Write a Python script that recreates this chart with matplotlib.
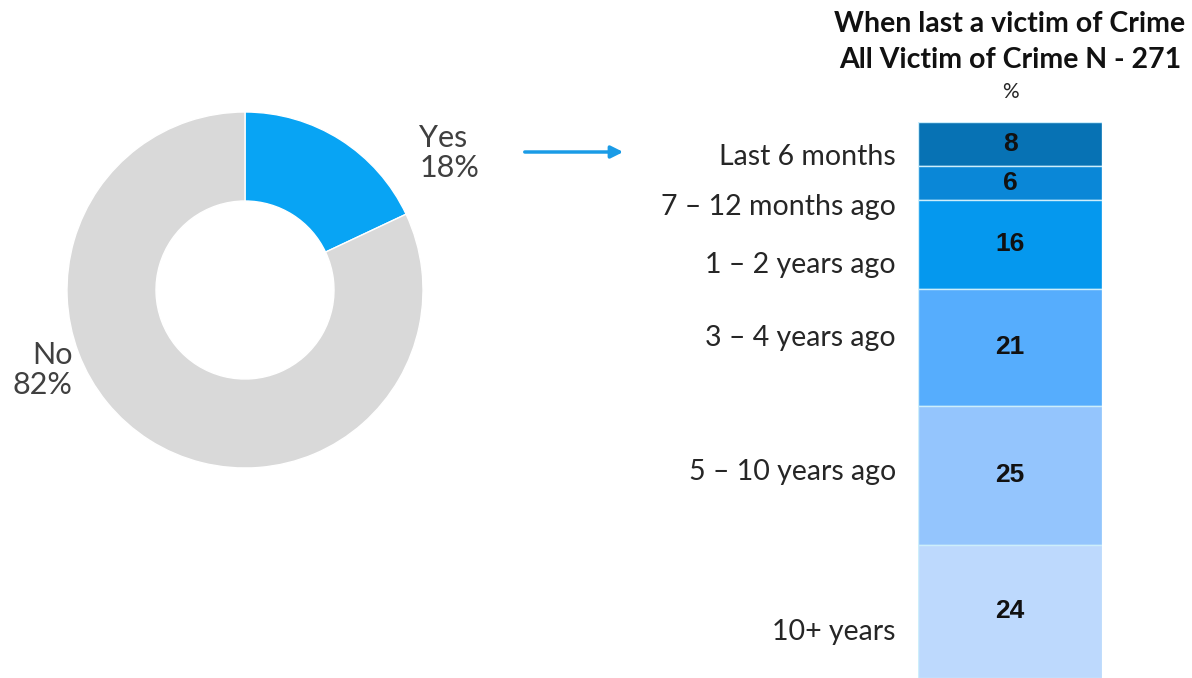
import numpy as np
import matplotlib.pyplot as plt
from matplotlib.patches import FancyArrowPatch

# victim of crime share (donut)
pie_labels = ["Yes", "No"]
pie_values = [18, 82]
pie_colors = ["#08a4f4", "#d9d9d9"]

# when last a victim, top to bottom of the stacked bar
periods = ["Last 6 months", "7 \u2013 12 months ago", "1 \u2013 2 years ago",
           "3 \u2013 4 years ago", "5 \u2013 10 years ago", "10+ years"]
shares = [8, 6, 16, 21, 25, 24]
bar_colors = ["#0772b4", "#0a87d7", "#0598ee", "#56adfd", "#94c5fd", "#bdd9fd"]
# nudges for the side labels so they don't crowd the thin segments
label_nudge = [2.3, 4.3, 3.7, -1.7, -0.6, 3.7]

plt.rcParams["font.family"] = ["Lato", "DejaVu Sans"]
W, H = 1192, 678
fig = plt.figure(figsize=(W / 100, H / 100), dpi=100)

# donut
ax_pie = fig.add_axes([67 / W, (H - 468) / H, 356 / W, 356 / H])
ax_pie.pie(pie_values, colors=pie_colors, startangle=90, counterclock=False,
           radius=1, wedgeprops=dict(width=0.5, edgecolor="white", linewidth=1))
ax_pie.set_xlim(-1, 1)
ax_pie.set_ylim(-1, 1)
ax_pie.set_aspect("equal")
ax_pie.axis("off")
ax_pie.text(0.98, 0.77, f"{pie_labels[0]}\n{pie_values[0]}%", ha="left", va="center",
            fontsize=22, color="#404040", linespacing=1.1)
ax_pie.text(-0.97, -0.45, f"{pie_labels[1]}\n{pie_values[1]}%", ha="right", va="center",
            fontsize=22, color="#404040", linespacing=1.1, multialignment="right")

# arrow linking "Yes" to the breakdown
arrow = FancyArrowPatch((522 / W, 1 - 152 / H), (626 / W, 1 - 152 / H),
                        transform=fig.transFigure, arrowstyle="-|>", mutation_scale=18,
                        color="#1a9be6", linewidth=2.5)
fig.patches.append(arrow)

# stacked bar
ax_bar = fig.add_axes([918 / W, 0, 184 / W, (H - 122) / H])
bottoms = np.concatenate([[0], np.cumsum(shares)[:-1]])
ax_bar.bar(np.zeros(len(shares)), shares, bottom=bottoms, width=1,
           color=bar_colors, edgecolor="#cdeefb", linewidth=1)
ax_bar.set_xlim(-0.5, 0.5)
ax_bar.set_ylim(100, 0)
ax_bar.axis("off")
for label, val, b, nudge in zip(periods, shares, bottoms, label_nudge):
    mid = b + val / 2
    ax_bar.text(0, mid, str(val), ha="center", va="center", fontsize=19,
                fontweight="bold", family=["Liberation Sans", "DejaVu Sans"], color="#111111")
    ax_bar.text(-0.62, mid + nudge, label, ha="right", va="center", fontsize=20.5,
                color="#262626", clip_on=False)

fig.text(1010 / W, 1 - 24 / H, "When last a victim of Crime", ha="center", va="center",
         fontsize=20.5, fontweight="bold", color="#111111")
fig.text(1010 / W, 1 - 60 / H, "All Victim of Crime N - 271", ha="center", va="center",
         fontsize=20.5, fontweight="bold", color="#111111")
fig.text(1010 / W, 1 - 92 / H, "%", ha="center", va="center", fontsize=15, color="#262626")

fig.savefig("out.png", dpi=100, facecolor="white")
